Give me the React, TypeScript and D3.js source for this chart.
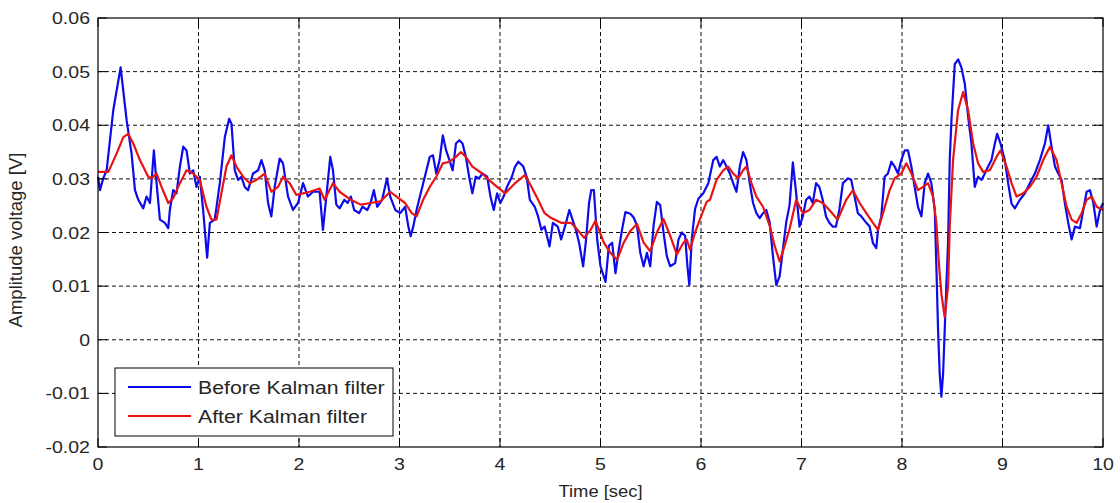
import { useEffect, useRef } from 'react';
import * as d3 from 'd3';

// signal before filtering (time in s, amplitude in V)
const beforeTime = [
  0.0, 0.02, 0.05, 0.086, 0.152, 0.225, 0.285, 0.334, 0.368, 0.401, 0.45, 0.483, 0.517, 0.556, 0.583,
  0.616, 0.666, 0.699, 0.715, 0.748, 0.781, 0.815, 0.848, 0.881, 0.914, 0.947, 0.98, 1.013, 1.046, 1.086,
  1.113, 1.162, 1.212, 1.262, 1.305, 1.328, 1.361, 1.394, 1.427, 1.46, 1.493, 1.543, 1.593, 1.626, 1.659,
  1.692, 1.725, 1.758, 1.808, 1.841, 1.891, 1.94, 1.99, 2.04, 2.089, 2.139, 2.205, 2.238, 2.272, 2.311,
  2.338, 2.371, 2.404, 2.451, 2.484, 2.516, 2.549, 2.598, 2.631, 2.68, 2.712, 2.745, 2.778, 2.827, 2.876,
  2.908, 2.958, 3.007, 3.056, 3.088, 3.111, 3.137, 3.17, 3.203, 3.252, 3.301, 3.333, 3.366, 3.399, 3.431,
  3.464, 3.497, 3.529, 3.562, 3.595, 3.627, 3.66, 3.693, 3.725, 3.758, 3.791, 3.824, 3.873, 3.905, 3.938,
  3.971, 4.003, 4.036, 4.069, 4.118, 4.15, 4.183, 4.232, 4.265, 4.297, 4.346, 4.379, 4.412, 4.444, 4.493,
  4.526, 4.575, 4.608, 4.657, 4.69, 4.722, 4.755, 4.788, 4.827, 4.853, 4.886, 4.908, 4.934, 4.967, 5.0,
  5.05, 5.083, 5.116, 5.149, 5.182, 5.215, 5.248, 5.297, 5.33, 5.363, 5.396, 5.429, 5.462, 5.495, 5.528,
  5.561, 5.594, 5.627, 5.66, 5.693, 5.743, 5.776, 5.809, 5.842, 5.865, 5.884, 5.908, 5.941, 5.974, 6.023,
  6.073, 6.122, 6.155, 6.188, 6.221, 6.254, 6.287, 6.32, 6.353, 6.386, 6.419, 6.452, 6.485, 6.518, 6.551,
  6.584, 6.617, 6.65, 6.683, 6.716, 6.749, 6.782, 6.815, 6.848, 6.881, 6.914, 6.947, 6.98, 7.013, 7.046,
  7.079, 7.112, 7.145, 7.178, 7.211, 7.244, 7.277, 7.31, 7.343, 7.376, 7.412, 7.462, 7.495, 7.528, 7.561,
  7.595, 7.645, 7.678, 7.711, 7.744, 7.761, 7.794, 7.827, 7.86, 7.894, 7.927, 7.96, 7.993, 8.027, 8.06,
  8.093, 8.126, 8.159, 8.193, 8.226, 8.259, 8.292, 8.326, 8.342, 8.359, 8.375, 8.392, 8.409, 8.425, 8.442,
  8.458, 8.475, 8.492, 8.525, 8.558, 8.591, 8.625, 8.658, 8.691, 8.724, 8.757, 8.791, 8.824, 8.857, 8.89,
  8.924, 8.947, 8.98, 9.023, 9.056, 9.09, 9.123, 9.173, 9.223, 9.272, 9.322, 9.372, 9.422, 9.455, 9.488,
  9.522, 9.555, 9.588, 9.621, 9.654, 9.688, 9.721, 9.771, 9.804, 9.837, 9.87, 9.904, 9.937, 9.97, 10.0
];
const beforeVolt = [
  0.0304, 0.0279, 0.03, 0.0316, 0.0428, 0.0508, 0.0409, 0.0347, 0.0279, 0.0261, 0.0245, 0.0267, 0.0255, 0.0353, 0.0292,
  0.0224, 0.0218, 0.0208, 0.0242, 0.0279, 0.0273, 0.0323, 0.036, 0.0353, 0.031, 0.0316, 0.0285, 0.0304, 0.0242, 0.0153,
  0.0218, 0.0224, 0.0292, 0.0378, 0.0412, 0.0403, 0.0316, 0.0298, 0.0304, 0.0285, 0.0279, 0.031, 0.0316, 0.0335, 0.0316,
  0.0255, 0.023, 0.0285, 0.0338, 0.0329, 0.0267, 0.0242, 0.0255, 0.0292, 0.0267, 0.0276, 0.0276, 0.0205, 0.0267, 0.0341,
  0.0316, 0.0252, 0.0245, 0.0261, 0.0255, 0.0267, 0.0242, 0.0236, 0.0248, 0.0242, 0.0255, 0.0279, 0.0248, 0.0261, 0.0301,
  0.0267, 0.0242, 0.0236, 0.0248, 0.0211, 0.0193, 0.0211, 0.0242, 0.0267, 0.0304, 0.0341, 0.0344, 0.031, 0.0335, 0.0381,
  0.0353, 0.0335, 0.0316, 0.0366, 0.0372, 0.0366, 0.0341, 0.0304, 0.0273, 0.0304, 0.0301, 0.031, 0.0304, 0.0267, 0.0242,
  0.0273, 0.0255, 0.0267, 0.0285, 0.0304, 0.0323, 0.0332, 0.0323, 0.0304, 0.0261, 0.0248, 0.023, 0.0205, 0.0211, 0.0174,
  0.0218, 0.0211, 0.0187, 0.0218, 0.0242, 0.0224, 0.0205, 0.018, 0.0137, 0.018, 0.0255, 0.0279, 0.0279, 0.0187, 0.0137,
  0.0108, 0.0175, 0.0181, 0.0124, 0.0168, 0.0206, 0.0238, 0.0235, 0.0228, 0.0213, 0.0162, 0.0137, 0.0162, 0.0137, 0.0213,
  0.0257, 0.0251, 0.02, 0.0156, 0.0137, 0.0143, 0.0187, 0.02, 0.0194, 0.0137, 0.0102, 0.0187, 0.0244, 0.0263, 0.0273,
  0.0292, 0.0335, 0.0341, 0.0323, 0.0335, 0.0323, 0.031, 0.0292, 0.0276, 0.0323, 0.035, 0.0335, 0.0292, 0.0255, 0.0236,
  0.0227, 0.0236, 0.0242, 0.0219, 0.0156, 0.0102, 0.0118, 0.0168, 0.0219, 0.0251, 0.0331, 0.0273, 0.0211, 0.023, 0.0261,
  0.0267, 0.0255, 0.0292, 0.0285, 0.0261, 0.023, 0.0218, 0.0211, 0.0211, 0.0242, 0.0292, 0.0301, 0.0298, 0.0267, 0.0236,
  0.023, 0.0218, 0.0211, 0.018, 0.0171, 0.0205, 0.023, 0.0304, 0.031, 0.0332, 0.0323, 0.031, 0.0335, 0.0353, 0.0353,
  0.0323, 0.0285, 0.0248, 0.023, 0.0292, 0.031, 0.0292, 0.0242, 0.0136, 0.0018, -0.0063, -0.0106, -0.0063, 0.0018, 0.0104,
  0.018, 0.0335, 0.0409, 0.0514, 0.0523, 0.0508, 0.0477, 0.0416, 0.0366, 0.0285, 0.0304, 0.0298, 0.031, 0.0323, 0.0335,
  0.0366, 0.0384, 0.0366, 0.0335, 0.0292, 0.0254, 0.0245, 0.0261, 0.0273, 0.0292, 0.031, 0.0335, 0.0366, 0.04, 0.036,
  0.0323, 0.031, 0.0298, 0.0254, 0.0218, 0.0187, 0.0211, 0.0208, 0.0242, 0.0276, 0.0279, 0.0255, 0.0211, 0.0242, 0.0255
];

// signal after the Kalman filter
const afterTime = [
  0.0, 0.103, 0.185, 0.252, 0.301, 0.351, 0.417, 0.5, 0.533, 0.583, 0.632, 0.699, 0.748, 0.815, 0.881,
  0.947, 1.013, 1.079, 1.129, 1.179, 1.228, 1.278, 1.328, 1.377, 1.444, 1.51, 1.576, 1.659, 1.725, 1.791,
  1.841, 1.907, 1.974, 2.04, 2.106, 2.205, 2.255, 2.338, 2.404, 2.516, 2.614, 2.712, 2.81, 2.908, 2.99,
  3.056, 3.121, 3.17, 3.235, 3.301, 3.366, 3.431, 3.497, 3.562, 3.611, 3.66, 3.725, 3.824, 3.889, 3.971,
  4.052, 4.15, 4.248, 4.314, 4.379, 4.444, 4.51, 4.608, 4.706, 4.771, 4.837, 4.902, 4.95, 5.033, 5.099,
  5.165, 5.231, 5.297, 5.363, 5.429, 5.495, 5.561, 5.627, 5.693, 5.759, 5.825, 5.858, 5.891, 5.941, 5.99,
  6.056, 6.089, 6.155, 6.221, 6.271, 6.32, 6.37, 6.419, 6.452, 6.502, 6.551, 6.617, 6.683, 6.733, 6.782,
  6.832, 6.881, 6.947, 7.013, 7.079, 7.145, 7.211, 7.277, 7.36, 7.445, 7.512, 7.578, 7.645, 7.711, 7.761,
  7.811, 7.877, 7.927, 7.993, 8.043, 8.093, 8.159, 8.209, 8.259, 8.309, 8.342, 8.359, 8.375, 8.392, 8.425,
  8.458, 8.475, 8.508, 8.558, 8.608, 8.658, 8.708, 8.757, 8.807, 8.874, 8.94, 8.98, 9.04, 9.09, 9.14,
  9.206, 9.272, 9.339, 9.405, 9.472, 9.538, 9.588, 9.638, 9.688, 9.738, 9.787, 9.837, 9.887, 9.937, 10.0
];
const afterVolt = [
  0.0313, 0.0313, 0.0347, 0.0378, 0.0384, 0.0366, 0.0335, 0.0304, 0.0301, 0.031, 0.0285, 0.0255, 0.0264, 0.0292, 0.0316,
  0.031, 0.0298, 0.0248, 0.0224, 0.0224, 0.0273, 0.0323, 0.0344, 0.0323, 0.0304, 0.0292, 0.0298, 0.031, 0.0276, 0.0285,
  0.0304, 0.0292, 0.027, 0.0273, 0.0276, 0.0282, 0.0261, 0.0292, 0.0276, 0.0261, 0.0252, 0.0255, 0.0258, 0.0276, 0.0264,
  0.0255, 0.0236, 0.023, 0.0261, 0.0285, 0.0304, 0.0329, 0.0332, 0.0341, 0.035, 0.0341, 0.0323, 0.031, 0.0298, 0.0285,
  0.0273, 0.0292, 0.0307, 0.0285, 0.0261, 0.0236, 0.0227, 0.0218, 0.0218, 0.0205, 0.019, 0.0205, 0.0222, 0.0181, 0.0162,
  0.0149, 0.0181, 0.0203, 0.0216, 0.0181, 0.0165, 0.02, 0.0225, 0.0194, 0.0159, 0.0181, 0.0187, 0.0168, 0.02, 0.0225,
  0.0257, 0.0261, 0.0298, 0.0316, 0.0323, 0.031, 0.0301, 0.0316, 0.0323, 0.0292, 0.0267, 0.0248, 0.0213, 0.0175, 0.0146,
  0.0175, 0.0206, 0.0261, 0.0236, 0.0242, 0.0261, 0.0255, 0.0242, 0.0224, 0.0261, 0.0279, 0.0255, 0.0236, 0.0218, 0.0205,
  0.0236, 0.0279, 0.0301, 0.031, 0.0329, 0.031, 0.0279, 0.0285, 0.0292, 0.0267, 0.0218, 0.0166, 0.0123, 0.0086, 0.0042,
  0.0098, 0.0211, 0.0335, 0.0428, 0.0462, 0.0428, 0.0366, 0.0329, 0.0313, 0.0316, 0.0341, 0.0353, 0.0323, 0.0292, 0.0267,
  0.0273, 0.0285, 0.0304, 0.0335, 0.036, 0.0335, 0.0292, 0.0248, 0.0224, 0.0218, 0.0236, 0.0261, 0.0267, 0.0248, 0.0242
];

const xTicks = [0, 1, 2, 3, 4, 5, 6, 7, 8, 9, 10];
const yTicks = [-0.02, -0.01, 0, 0.01, 0.02, 0.03, 0.04, 0.05, 0.06];
const yTickLabels = ['-0.02', '-0.01', '0', '0.01', '0.02', '0.03', '0.04', '0.05', '0.06'];
const seriesNames = ['Before Kalman filter', 'After Kalman filter'];
const seriesColors = ['#0b0bec', '#e81414'];

export default function App() {
  const svgRef = useRef<SVGSVGElement>(null);

  useEffect(() => {
    const svg = d3.select(svgRef.current);
    svg.selectAll('*').remove();

    const width = 1120;
    const height = 503;
    const margin = { top: 18, right: 17, bottom: 56, left: 98 };
    const innerWidth = width - margin.left - margin.right;
    const innerHeight = height - margin.top - margin.bottom;
    const font = 'Liberation Sans, Arial, sans-serif';
    const textColor = '#262626';
    const stretch = 1.15;

    const x = d3.scaleLinear().domain([0, 10]).range([0, innerWidth]);
    const y = d3.scaleLinear().domain([-0.02, 0.06]).range([innerHeight, 0]);

    svg.append('rect').attr('width', width).attr('height', height).attr('fill', '#fff');

    const g = svg.append('g').attr('transform', `translate(${margin.left},${margin.top})`);

    // dashed grid
    g.append('g')
      .selectAll('line')
      .data(xTicks.slice(1, -1))
      .join('line')
      .attr('x1', d => x(d)).attr('x2', d => x(d))
      .attr('y1', 0).attr('y2', innerHeight)
      .attr('stroke', '#111').attr('stroke-dasharray', '4,3');
    g.append('g')
      .selectAll('line')
      .data(yTicks.slice(1, -1))
      .join('line')
      .attr('x1', 0).attr('x2', innerWidth)
      .attr('y1', d => y(d)).attr('y2', d => y(d))
      .attr('stroke', '#111').attr('stroke-dasharray', '4,3');

    const line = d3.line<[number, number]>()
      .x(d => x(d[0]))
      .y(d => y(d[1]));

    const before = beforeTime.map((t, i) => [t, beforeVolt[i]] as [number, number]);
    const after = afterTime.map((t, i) => [t, afterVolt[i]] as [number, number]);

    g.append('path').datum(before)
      .attr('d', line).attr('fill', 'none')
      .attr('stroke', seriesColors[0]).attr('stroke-width', 2.2)
      .attr('stroke-linejoin', 'round');
    g.append('path').datum(after)
      .attr('d', line).attr('fill', 'none')
      .attr('stroke', seriesColors[1]).attr('stroke-width', 2.2)
      .attr('stroke-linejoin', 'round');

    // inward ticks on all sides
    const tickLen = 9;
    const ticks = g.append('g').attr('stroke', '#000');
    xTicks.forEach(t => {
      ticks.append('line').attr('x1', x(t)).attr('x2', x(t)).attr('y1', innerHeight).attr('y2', innerHeight - tickLen);
      ticks.append('line').attr('x1', x(t)).attr('x2', x(t)).attr('y1', 0).attr('y2', tickLen);
    });
    yTicks.forEach(v => {
      ticks.append('line').attr('x1', 0).attr('x2', tickLen).attr('y1', y(v)).attr('y2', y(v));
      ticks.append('line').attr('x1', innerWidth).attr('x2', innerWidth - tickLen).attr('y1', y(v)).attr('y2', y(v));
    });

    g.append('rect')
      .attr('width', innerWidth).attr('height', innerHeight)
      .attr('fill', 'none').attr('stroke', '#000').attr('stroke-width', 1.2);

    // tick labels
    xTicks.forEach(t => {
      g.append('text')
        .attr('transform', `translate(${x(t)},${innerHeight + 23}) scale(${stretch},1)`)
        .attr('text-anchor', 'middle')
        .style('font-family', font).style('font-size', '17px').style('fill', textColor)
        .text(String(t));
    });
    yTicks.forEach((v, i) => {
      g.append('text')
        .attr('transform', `translate(-8,${y(v) + 6}) scale(${stretch},1)`)
        .attr('text-anchor', 'end')
        .style('font-family', font).style('font-size', '17px').style('fill', textColor)
        .text(yTickLabels[i]);
    });

    // axis titles
    g.append('text')
      .attr('transform', `translate(${innerWidth / 2},${innerHeight + 50}) scale(${stretch},1)`)
      .attr('text-anchor', 'middle')
      .style('font-family', font).style('font-size', '16px').style('fill', textColor)
      .text('Time [sec]');
    svg.append('text')
      .attr('transform', `translate(22,240) rotate(-90)`)
      .attr('text-anchor', 'middle')
      .style('font-family', font).style('font-size', '18.5px').style('fill', textColor)
      .text('Amplitude voltage [V]');

    // legend
    const legend = svg.append('g').attr('transform', 'translate(115,368)');
    legend.append('rect')
      .attr('width', 278).attr('height', 68)
      .attr('fill', '#fff').attr('stroke', '#000').attr('stroke-width', 1);
    seriesNames.forEach((name, i) => {
      const ly = 19 + i * 29;
      legend.append('line')
        .attr('x1', 13).attr('x2', 76).attr('y1', ly).attr('y2', ly)
        .attr('stroke', seriesColors[i]).attr('stroke-width', 2.2);
      legend.append('text')
        .attr('transform', `translate(83,${ly + 7}) scale(${stretch},1)`)
        .style('font-family', font).style('font-size', '18.5px').style('fill', textColor)
        .text(name);
    });
  }, []);

  return (
    <svg
      ref={svgRef}
      width={1120}
      height={503}
      style={{ position: 'absolute', left: 0, top: 0 }}
    />
  );
}
